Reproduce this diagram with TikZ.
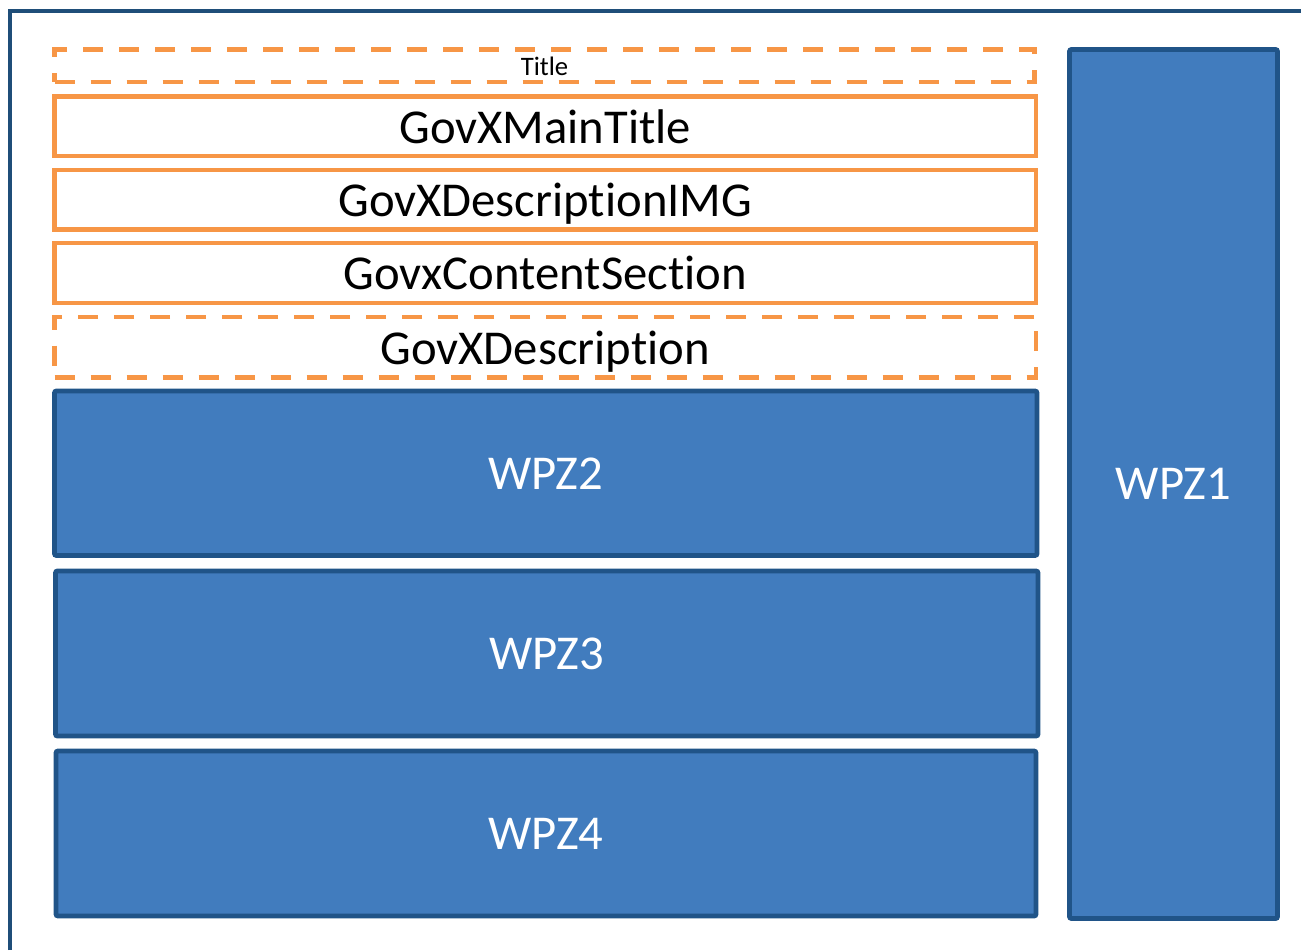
\documentclass[tikz,border=0pt]{standalone}
\usepackage{fontspec}
\setmainfont{Carlito}[Ligatures={NoCommon}]
\definecolor{orng}{RGB}{247,150,70}
\definecolor{bfill}{RGB}{65,124,190}
\definecolor{bline}{RGB}{32,84,136}
\definecolor{frame}{RGB}{31,78,121}
\tikzset{
  obox/.style={draw=orng, line width=3.2pt, inner sep=0pt, fill=white, text depth=0pt},
  odash/.style={obox, dash pattern=on 15pt off 12pt},
  bbox/.style={draw=bline, fill=bfill, line width=3.6pt, inner sep=0pt, rounded corners=1.5pt, text=white},
  big/.style={font=\fontsize{36.5}{40}\selectfont},
  small/.style={font=\fontsize{20}{24}\selectfont}
}
\begin{document}
\begin{tikzpicture}[x=0.75pt,y=-0.75pt]
\useasboundingbox (0,0) rectangle (1301,950);
\coordinate (fa) at (10,950);
\coordinate (fb) at (10,11.3);
\coordinate (fc) at (1301,11.3);
\draw[frame, line width=3pt] (fa) -- (fb) -- (fc);
\node[odash, small, minimum width=735pt, minimum height=24.375pt] (title) at (544.5,65.75) {Title};
\node[obox, big, minimum width=736.125pt, minimum height=44.625pt] (main) at (545.25,126.25) {GovXMainTitle};
\node[obox, big, minimum width=736.125pt, minimum height=44.625pt] (img) at (545.25,199.75) {GovXDescriptionIMG};
\node[obox, big, minimum width=736.125pt, minimum height=45pt] (content) at (545.25,273) {GovxContentSection};
\node[odash, big, minimum width=736.125pt, minimum height=45.375pt] (desc) at (545.25,347.25) {GovXDescription};
\node[bbox, big, minimum width=736.875pt, minimum height=123.375pt] (wpz2) at (545.75,473.25) {WPZ2};
\node[bbox, big, minimum width=736.875pt, minimum height=123.75pt] (wpz3) at (546.75,653.5) {WPZ3};
\node[bbox, big, minimum width=735pt, minimum height=123.75pt] (wpz4) at (546,833.5) {WPZ4};
\node[bbox, big, minimum width=156pt, minimum height=651.75pt] (wpz1) at (1173.5,484) {WPZ1};
\end{tikzpicture}
\end{document}
